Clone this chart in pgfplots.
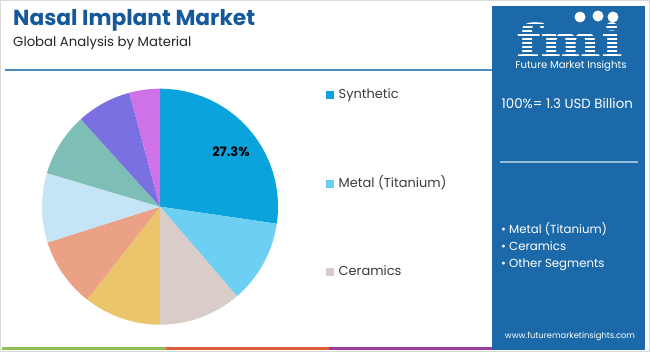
\documentclass[border=0pt]{standalone}
\usepackage{fontspec}
\setmainfont{Poppins}
\newfontfamily\logofont{DejaVu Serif}
\usepackage{pgfplots}
\usepackage{pgfplotstable}
\pgfplotsset{compat=1.18}
\definecolor{titleblue}{HTML}{15599A}
\definecolor{panelblue}{HTML}{1B69A8}
\definecolor{rulelblue}{HTML}{4A8CC4}
\definecolor{slice0}{HTML}{0AA3DC}
\definecolor{slice1}{HTML}{6DCFF2}
\definecolor{slice2}{HTML}{D8CDC9}
\definecolor{slice3}{HTML}{EAC56B}
\definecolor{slice4}{HTML}{EBA185}
\definecolor{slice5}{HTML}{C5E5F6}
\definecolor{slice6}{HTML}{7DBFB6}
\definecolor{slice7}{HTML}{7B70E2}
\definecolor{slice8}{HTML}{CF72E8}
\definecolor{bargreen}{HTML}{8DC04F}
\definecolor{barorange}{HTML}{E0603C}
\definecolor{barpurple}{HTML}{9B3B9B}
\definecolor{legtext}{HTML}{3A3A3A}

\pgfplotstableread{
share
27.3
11.4
11.3
10.6
9.5
9.5
8.7
7.5
4.2
}\piedata

\begin{document}
\begin{tikzpicture}
\begin{axis}[x=1bp,y=1bp,y dir=reverse,xmin=0,xmax=650,ymin=0,ymax=352,
  hide axis,clip=false]
\pgfplotsextra{%
  % background and frame
  \fill[white] (axis cs:0,0) rectangle (axis cs:650,352);
  \draw[black!15,line width=1bp] (axis cs:0.5,0.5) rectangle (axis cs:649.5,351.5);
  % title
  \node[anchor=base west,inner sep=0,text=titleblue,font=\fontsize{21.8}{26}\selectfont\bfseries] at (axis cs:13,25) {Nasal Implant Market};
  \node[anchor=base west,inner sep=0,text=black!85,font=\fontsize{13.3}{16}\selectfont] at (axis cs:13,46) {Global Analysis by Material};
  \draw[rulelblue,line width=1.5bp] (axis cs:5,70) -- (axis cs:492,70);
  % bottom bar
  \fill[bargreen] (axis cs:2,347) rectangle (axis cs:166,350);
  \fill[barorange] (axis cs:166,347) rectangle (axis cs:329,350);
  \fill[barpurple] (axis cs:329,347) rectangle (axis cs:492,350);
  % pie
  \gdef\cum{0}%
  \pgfplotstableforeachcolumnelement{share}\of\piedata\as\v{%
    \pgfmathsetmacro\a{90-3.6*\cum}%
    \pgfmathsetmacro\tmp{\cum+\v}\xdef\cum{\tmp}%
    \pgfmathsetmacro\b{90-3.6*\cum}%
    \fill[slice\pgfplotstablerow] (axis cs:160,206.7) -- ++(\a:118bp) arc[start angle=\a,end angle=\b,radius=118bp] -- cycle;
  }%
  \node[inner sep=0,font=\fontsize{13}{15}\selectfont\bfseries] at (axis cs:231,152) {27.3\%};
  % legend
  \fill[slice0] (axis cs:325.5,90.5) rectangle (axis cs:333.5,98.5);
  \fill[slice1] (axis cs:325.5,179.5) rectangle (axis cs:333.5,187.5);
  \fill[slice2] (axis cs:325.5,267.5) rectangle (axis cs:333.5,275.5);
  \node[anchor=base west,inner sep=0,text=legtext,font=\fontsize{13}{16}\selectfont] at (axis cs:338.5,98.5) {Synthetic};
  \node[anchor=base west,inner sep=0,text=legtext,font=\fontsize{13}{16}\selectfont] at (axis cs:338.5,187.5) {Metal (Titanium)};
  \node[anchor=base west,inner sep=0,text=legtext,font=\fontsize{13}{16}\selectfont] at (axis cs:338.5,275.5) {Ceramics};
  % right panel
  \fill[panelblue] (axis cs:492,6) rectangle (axis cs:645,350);
  \node[anchor=base west,inner sep=0,text=white,font=\logofont\bfseries\fontsize{46}{46}\selectfont,xscale=1.25] at (axis cs:516,57) {fmi};
  \foreach \yy in {25,29,...,57} {\draw[panelblue,line width=1.2bp] (axis cs:510,\yy) -- (axis cs:630,\yy);}
  \fill[white] (axis cs:580,17) circle[radius=5.5bp];
  \fill[white] (axis cs:598,16) circle[radius=5.5bp];
  \fill[white] (axis cs:613,17) circle[radius=5.5bp];
  \node[anchor=base,inner sep=0,text=white,font=\fontsize{10.2}{11}\selectfont] at (axis cs:571,68) {Future Market Insights};
  \node[anchor=base west,inner sep=0,text=white,font=\fontsize{13.4}{16}\selectfont] at (axis cs:501.5,108.3) {100\%= 1.3 USD Billion};
  \draw[white!55!panelblue,line width=1.5bp] (axis cs:500,162) -- (axis cs:638,162);
  \node[anchor=base west,inner sep=0,text=white,font=\fontsize{11.8}{14}\selectfont] at (axis cs:501,233) {• Metal (Titanium)};
  \node[anchor=base west,inner sep=0,text=white,font=\fontsize{11.8}{14}\selectfont] at (axis cs:501,250) {• Ceramics};
  \node[anchor=base west,inner sep=0,text=white,font=\fontsize{11.8}{14}\selectfont] at (axis cs:501,267) {• Other Segments};
  \node[anchor=base,inner sep=0,text=white,font=\fontsize{8.4}{10}\selectfont] at (axis cs:570,338) {www.futuremarketinsights.com};
}
\end{axis}
\end{tikzpicture}
\end{document}
